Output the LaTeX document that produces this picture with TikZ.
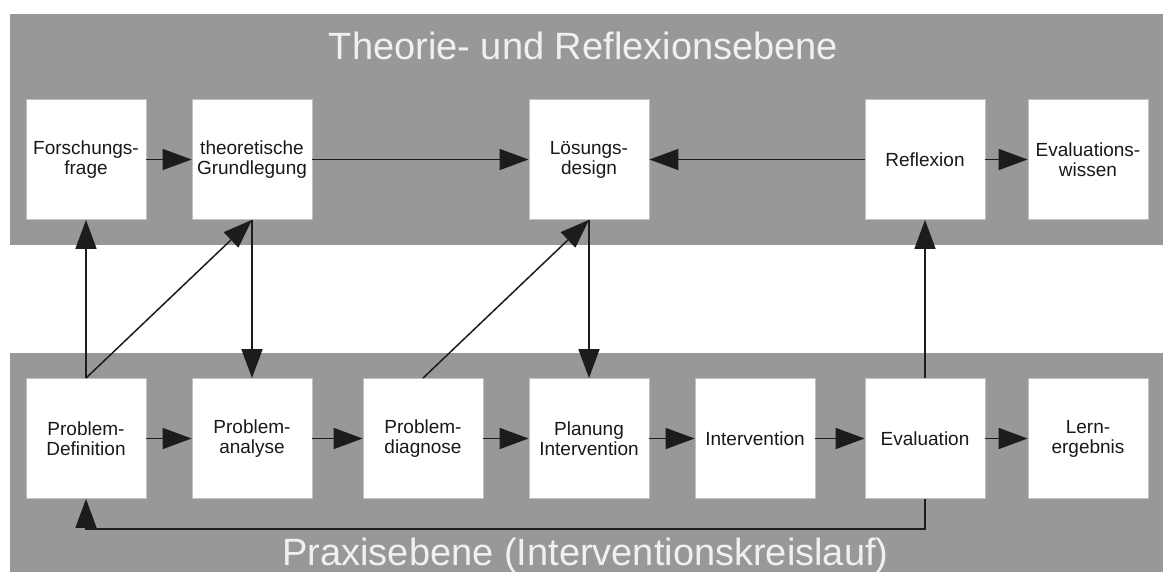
\documentclass[tikz,border=0pt]{standalone}
\usepackage{fontspec}
\setmainfont{Liberation Sans}
\usetikzlibrary{arrows.meta}
\definecolor{bandgray}{RGB}{152,152,152}
\definecolor{boxline}{RGB}{192,192,192}
\definecolor{linkcol}{RGB}{28,28,28}
\begin{document}
\begin{tikzpicture}[x=1pt,y=-1pt,
  stagebox/.style={draw=boxline, line width=0.8pt, fill=white,
    minimum width=120pt, minimum height=120pt, inner sep=0pt,
    align=center, font=\fontsize{19}{20}\selectfont, text=black!90},
  link/.style={draw=linkcol, line width=1.5pt,
    -{Triangle[length=29pt,width=21pt]}},
  bandtitle/.style={text=white!94!black, font=\fontsize{38}{40}\selectfont,
    anchor=base, inner sep=0pt}]
\useasboundingbox (0,0) rectangle (1163,572);
\fill[white] (0,0) rectangle (1163,572);

% the two levels
\fill[bandgray] (10,14) rectangle (1163,245);
\fill[bandgray] (10,353) rectangle (1163,572);
\node[bandtitle] (ttop) at (583.5,60) {Theorie- und Reflexionsebene};
\node[bandtitle] (tbot) at (585.5,565) {Praxisebene (Interventionskreislauf)};

% theory level
\node[stagebox] (frage) at (86,159.5)   {Forschungs-\\frage};
\node[stagebox] (theo)  at (252,159.5)  {theoretische\\Grundlegung};
\node[stagebox] (loes)  at (589,159.5)  {Lösungs-\\design};
\node[stagebox] (refl)  at (925,159.5)  {Reflexion};
\node[stagebox] (evw)   at (1088,159.5) {Evaluations-\\wissen};

% practice level
\node[stagebox] (pdef)  at (86,438.5)   {Problem-\\Definition};
\node[stagebox] (pana)  at (252,438.5)  {Problem-\\analyse};
\node[stagebox] (pdiag) at (423,438.5)  {Problem-\\diagnose};
\node[stagebox] (plan)  at (589,438.5)  {Planung\\Intervention};
\node[stagebox] (interv) at (755,438.5) {Intervention};
\node[stagebox] (eval)  at (925,438.5)  {Evaluation};
\node[stagebox] (lern)  at (1088,438.5) {Lern-\\ergebnis};

% theory level flow
\draw[link] (frage) -- (theo);
\draw[link] (theo) -- (loes);
\draw[link] (refl) -- (loes);
\draw[link] (refl) -- (evw);

% practice level flow
\draw[link] (pdef) -- (pana);
\draw[link] (pana) -- (pdiag);
\draw[link] (pdiag) -- (plan);
\draw[link] (plan) -- (interv);
\draw[link] (interv) -- (eval);
\draw[link] (eval) -- (lern);

% links between the levels
\draw[link] (pdef.north) -- (frage.south);
\draw[link] (pdef.north) -- (theo.south);
\draw[link] (theo.south) -- (pana.north);
\draw[link] (pdiag.north) -- (loes.south);
\draw[link] (loes.south) -- (plan.north);
\draw[link] (eval.north) -- (refl.south);

% feedback loop
\coordinate (fb) at (0,529);
\draw[link] (eval.south) -- (eval.south |- fb) -- (pdef.south |- fb) -- (pdef.south);
\end{tikzpicture}
\end{document}
